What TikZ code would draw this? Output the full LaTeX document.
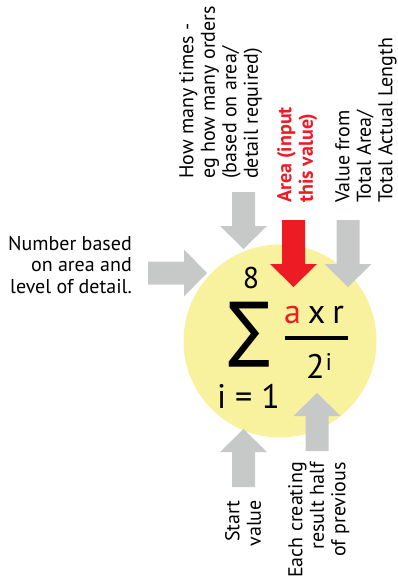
\documentclass[tikz,border=0pt]{standalone}
\usepackage{fontspec}
\setmainfont{PT Sans}
\newfontfamily\symfont{DejaVu Sans}
\definecolor{sunyellow}{RGB}{248,241,158}
\definecolor{arrowgray}{RGB}{199,200,200}
\definecolor{hotred}{RGB}{237,28,36}
\newcommand\blockarr[5]{\fill[#5, shift={(#1,#2)}, rotate=#3] (0,0) -- (-23,23.5) -- (-23,11.5) -- (-#4,11.5) -- (-#4,-11.5) -- (-23,-11.5) -- (-23,-23.5) -- cycle;}
\begin{document}
\begin{tikzpicture}[x=1pt,y=-1pt,
  txt/.style={inner sep=0pt, font=\fontsize{20}{21.5}\selectfont},
  upright/.style={txt, rotate=90},
  mathbig/.style={inner sep=0pt, font=\fontsize{34}{34}\selectfont},
  grayarrow/.style={arrowgray},
  redarrow/.style={hotred}]
\useasboundingbox (0,0) rectangle (397,580);
\node[circle, fill=sunyellow, minimum size=193pt, inner sep=0pt] (sun) at (280,341) {};
% arrows
\blockarr{207}{273}{0}{59}{grayarrow}
\blockarr{243.5}{249}{-90}{57}{grayarrow}
\blockarr{293.5}{287}{-90}{67}{redarrow}
\blockarr{348}{287}{-90}{67}{grayarrow}
\blockarr{243.5}{429}{90}{58}{grayarrow}
\blockarr{317}{393}{90}{58}{grayarrow}
% texts
\node[txt, align=right, anchor=north east] (number) at (132,236) {Number based\\on area and\\level of detail.};
\node[upright, align=left, anchor=north west] (howmany) at (179,179) {How many times -\\eg how many orders\\(based on area/\\detail required)};
\node[upright, align=left, anchor=north west, text=hotred, font=\fontsize{20}{21.5}\selectfont\bfseries] (area) at (277,203) {Area (input\\this value)};
\node[upright, align=left, anchor=north west] (value) at (335,203) {Value from\\Total Area/\\Total Actual Length};
\node[upright, align=right, anchor=north east] (start) at (225,500) {Start\\value};
\node[upright, align=right, anchor=north east] (each) at (288,462) {Each creating\\result half\\of previous};
% formula
\node[inner sep=0pt, anchor=base, font=\fontsize{30}{30}\selectfont] (upper) at (251,288) {8};
\node[inner sep=0pt] (sigma) at (249,334.5) {\resizebox*{42pt}{65pt}{\symfont ∑}};
\node[mathbig, anchor=base] (lower) at (248.5,408) {i = 1};
\node[mathbig, anchor=base] (numer) at (314,323) {\textcolor{hotred}{a}\kern7pt x\kern7pt r};
\draw[line width=3.3pt] (285,338) -- (348,338);
\node[mathbig, anchor=base west] (denom) at (306,378) {2\kern1pt\raisebox{8pt}{\fontsize{24}{24}\selectfont i}};
\end{tikzpicture}
\end{document}
